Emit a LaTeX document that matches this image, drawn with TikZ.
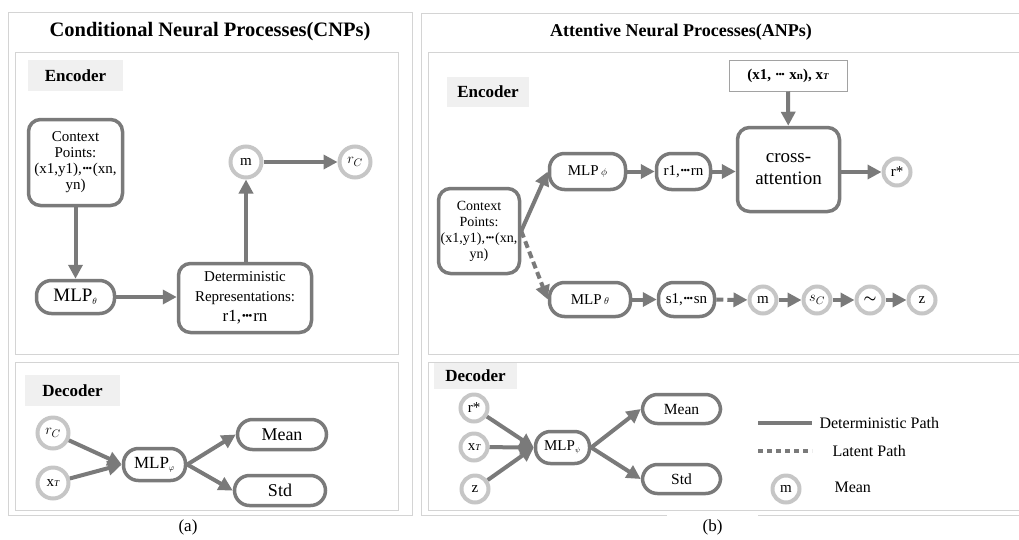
\documentclass[tikz,border=0pt]{standalone}
\usepackage{fontspec}
\setmainfont{Liberation Serif}
\usepackage{amsmath}
\usepackage{bm}
\usetikzlibrary{arrows.meta}

\definecolor{linegray}{RGB}{122,122,122}
\definecolor{ringgray}{RGB}{198,198,198}
\definecolor{framegray}{RGB}{212,212,212}
\definecolor{labelgray}{RGB}{240,240,240}

\newcommand{\fs}[2]{\fontsize{#1}{#2}\selectfont}
% tight row of three dots
\newcommand{\dts}{{\bfseries\textperiodcentered\kern-.14em\textperiodcentered\kern-.14em\textperiodcentered}}

\tikzset{
    blk/.style = {draw = linegray, line width = 3.5pt, rounded corners = 12pt,
        fill = white, align = center, inner sep = 1pt},
    pill/.style = {blk, rounded corners = 15pt},
    dot/.style = {circle, draw = ringgray, line width = 4pt, fill = white,
        inner sep = 0pt, minimum size = 27pt, font = \fs{15}{16}},
    bigdot/.style = {dot, minimum size = 31pt},
    frame/.style = {draw = framegray, line width = 1pt},
    tag/.style = {fill = labelgray, font = \bfseries\fs{17}{18}},
    arr/.style = {-{Triangle[length = 14pt, width = 14pt]}, draw = linegray,
        line width = 4pt},
    latent/.style = {arr, dash pattern = on 7pt off 4pt},
}

\begin{document}
\begin{tikzpicture}[x = 1pt, y = -1pt]
    \useasboundingbox (0,0) rectangle (1019,539);

    % frames of the two panels
    \draw [frame] (8,12) rectangle (412,515);
    \draw [frame] (15,52) rectangle (398,354);
    \draw [frame] (15,362) rectangle (398,510);
    \draw [frame] (421,13) rectangle (1030,515);
    \draw [frame] (428,52) rectangle (1030,354);
    \draw [frame] (428,362) rectangle (1030,510);

    \node [font = \bfseries\fs{20.5}{22}] (cnptitle) at (210,32)
        {Conditional Neural Processes(CNPs)};
    \node [font = \bfseries\fs{18}{20}] (anptitle) at (681,32)
        {Attentive Neural Processes(ANPs)};

    %% CNP encoder
    \node [tag, minimum width = 95pt, minimum height = 31pt] (enca) at (75.5,75.5) {Encoder};
    \node [blk, minimum width = 94pt, minimum height = 86pt, font = \fs{15}{16}]
        (ctxa) at (75.5,162.5) {Context\\Points:\\(x1,y1),\dts(xn,\\yn)};
    \node [pill, minimum width = 78pt, minimum height = 33pt, font = \fs{19}{20}]
        (mlpa) at (75.5,297) {MLP$_{\scriptscriptstyle\theta}$};
    \node [blk, minimum width = 133pt, minimum height = 69pt, font = \fs{15}{20}]
        (deta) at (245,298) {Deterministic\\Representations:\\{\fs{17}{20}r1,\dts rn}};
    \node [bigdot] (ma) at (246,162) {m};
    \node [bigdot] (rca) at (355,162) {$r_{C}$};

    \draw [arr] (ctxa) -- (mlpa);
    \draw [arr] (mlpa.east) -- (mlpa.east -| deta.west);
    \draw [arr] (deta.north -| ma) -- (ma);
    \draw [arr] (ma) -- (rca);

    %% CNP decoder
    \node [tag, minimum width = 95pt, minimum height = 31pt] (deca) at (72.5,390.5) {Decoder};
    \node [bigdot] (rcd) at (53,433) {$r_{C}$};
    \node [bigdot] (xtd) at (53,483) {x{\fs{9}{9}\itshape T}};
    \node [pill, minimum width = 62pt, minimum height = 32pt, font = \fs{17}{18}]
        (mlpd) at (154.5,464.5) {MLP$_{\scriptscriptstyle\varphi}$};
    \node [pill, minimum width = 89pt, minimum height = 30pt, font = \fs{18}{19}]
        (meana) at (282,434.5) {Mean};
    \node [pill, minimum width = 91pt, minimum height = 30pt, font = \fs{18}{19}]
        (stda) at (280,490.5) {Std};

    \draw [arr] (rcd) -- (mlpd.west);
    \draw [arr] (xtd) -- (mlpd.west);
    \draw [arr] (mlpd.east) -- (meana.west);
    \draw [arr] (mlpd.east) -- (stda.west);

    \node [font = \fs{17}{18}] (capa) at (188,527) {(a)};

    %% ANP encoder
    \node [tag, minimum width = 82pt, minimum height = 30pt] (encb) at (488,92) {Encoder};
    \node [draw = linegray!70, line width = 1pt, fill = white, minimum width = 118pt,
        minimum height = 31pt, font = \bfseries\fs{15}{16}]
        (qry) at (788,75.5) {(x1, \dts\ x{\fs{11}{11}n}), x{\fs{9}{9}\itshape T}};
    \node [blk, minimum width = 102pt, minimum height = 84pt, font = \fs{19}{22}]
        (cross) at (788.5,169.5) {cross-\\attention};
    \node [dot] (rstar) at (897,172) {r*};
    \node [pill, minimum width = 76pt, minimum height = 36pt, font = \fs{15}{16}]
        (mlpb1) at (587.5,171.5) {MLP\,{\fs{10}{10}$\phi$}};
    \node [pill, minimum width = 54pt, minimum height = 36pt, font = \fs{15}{16}]
        (rnb) at (683.5,171.5) {r1,\dts rn};
    \node [blk, minimum width = 81pt, minimum height = 85pt, font = \fs{14}{16}]
        (ctxb) at (479,231) {Context\\Points:\\(x1,y1),\dts(xn,\\yn)};
    \node [pill, minimum width = 81pt, minimum height = 34pt, font = \fs{15}{16}]
        (mlpb2) at (590,299.5) {MLP\,{\fs{10}{10}$\theta$}};
    \node [pill, minimum width = 56pt, minimum height = 34pt, font = \fs{15}{16}]
        (snb) at (686.5,299.5) {s1,\dts sn};
    \node [dot] (mb) at (763,300) {m};
    \node [dot] (scb) at (817,300) {$s_{C}$};
    \node [dot] (tildeb) at (870,300) {$\bm{\sim}$};
    \node [dot] (zb) at (922,300) {z};

    \draw [arr] (qry) -- (cross);
    \draw [arr] (cross.east |- rstar) -- (rstar);
    \draw [arr] (mlpb1) -- (rnb);
    \draw [arr] (rnb.east) -- (rnb.east -| cross.west);
    \draw [arr] (ctxb.east) -- (mlpb1.west);
    \draw [latent] (ctxb.east) -- (mlpb2.west);
    \draw [arr] (mlpb2) -- (snb);
    \draw [latent] (snb) -- (mb);
    \draw [arr] (mb) -- (scb);
    \draw [arr] (scb) -- (tildeb);
    \draw [arr] (tildeb) -- (zb);

    %% ANP decoder
    \node [tag, minimum width = 83pt, minimum height = 26pt] (decb) at (475.5,376) {Decoder};
    \node [dot] (rsd) at (474,408) {r*};
    \node [dot] (xtb) at (474,447) {x{\fs{9}{9}\itshape T}};
    \node [dot] (zd) at (475,489) {z};
    \node [pill, minimum width = 54pt, minimum height = 32pt, font = \fs{15}{16}]
        (mlpe) at (562.5,447.5) {MLP$_{\scriptscriptstyle\psi}$};
    \node [pill, minimum width = 78pt, minimum height = 29pt, font = \fs{15.5}{16}]
        (meanb) at (681.5,409) {Mean};
    \node [pill, minimum width = 78pt, minimum height = 29pt, font = \fs{15.5}{16}]
        (stdb) at (681.5,479) {Std};

    \draw [arr] (rsd) -- (mlpe.west);
    \draw [arr] (xtb) -- (mlpe.west);
    \draw [arr] (zd) -- (mlpe.west);
    \draw [arr] (mlpe.east) -- (meanb.west);
    \draw [arr] (mlpe.east) -- (stdb.west);

    % legend
    \coordinate (solida) at (758,423);
    \coordinate (solidb) at (812,423);
    \coordinate (dasha) at (758,451);
    \coordinate (dashb) at (812,451);
    \draw [draw = linegray, line width = 4pt] (solida) -- (solidb);
    \draw [draw = linegray, line width = 4pt, dash pattern = on 5pt off 4pt] (dasha) -- (dashb);
    \node [anchor = west, font = \fs{16}{17}] (detlbl) at (816,423) {Deterministic Path};
    \node [anchor = west, font = \fs{16}{17}] (latlbl) at (829,451) {Latent Path};
    \node [dot] (legm) at (786,489) {m};
    \node [anchor = west, font = \fs{16}{17}] (meanlbl) at (831,487) {Mean};

    % white patch over the frame under the caption
    \node [fill = white, minimum width = 91pt, minimum height = 26pt, font = \fs{17}{18}]
        (capb) at (712.5,527) {(b)};
\end{tikzpicture}
\end{document}
